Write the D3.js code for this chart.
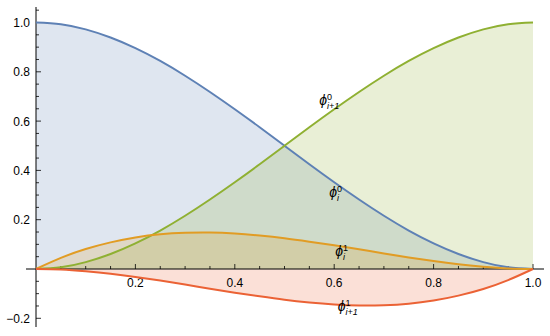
<!DOCTYPE html>
<html><head><meta charset="utf-8">
<script src="https://cdn.jsdelivr.net/npm/d3@7"></script>
<style>body{margin:0;background:#fff}svg{display:block}</style>
</head><body>
<svg id="c" width="550" height="336"></svg>
<script>
const xs = [0,0.05,0.1,0.15,0.2,0.25,0.3,0.35,0.4,0.45,0.5,0.55,0.6,0.65,0.7,0.75,0.8,0.85,0.9,0.95,1];
const phiI0  = [1,0.993,0.972,0.939,0.896,0.844,0.784,0.718,0.648,0.575,0.5,0.425,0.352,0.282,0.216,0.156,0.104,0.061,0.028,0.007,0];
const phiI10 = [0,0.007,0.028,0.061,0.104,0.156,0.216,0.282,0.352,0.425,0.5,0.575,0.648,0.718,0.784,0.844,0.896,0.939,0.972,0.993,1];
const phiI1  = [0,0.045,0.081,0.108,0.128,0.141,0.147,0.148,0.144,0.136,0.125,0.111,0.096,0.080,0.063,0.047,0.032,0.019,0.009,0.002,0];
const phiI11 = [0,-0.002,-0.009,-0.019,-0.032,-0.047,-0.063,-0.080,-0.096,-0.111,-0.125,-0.136,-0.144,-0.148,-0.147,-0.141,-0.128,-0.108,-0.081,-0.045,0];
const xTicks = [0.2,0.4,0.6,0.8,1.0];
const yTicks = [-0.2,0.2,0.4,0.6,0.8,1.0];

const series = [
  {vals: phiI0,  color:"#5E81B5", label:{sup:"0", sub:"i"}, lx:0.59, ly:0.31},
  {vals: phiI10, color:"#8FB032", label:{sup:"0", sub:"i+1"}, lx:0.57, ly:0.68},
  {vals: phiI1,  color:"#E19C24", label:{sup:"1", sub:"i"}, lx:0.602, ly:0.07},
  {vals: phiI11, color:"#EB6235", label:{sup:"1", sub:"i+1"}, lx:0.607, ly:-0.155}
];

const svg = d3.select("#c");
const x = d3.scaleLinear().domain([0,1]).range([36,533]);
const y = d3.scaleLinear().domain([0,1]).range([269,22.5]);

const area = v => d3.area().x((d,i)=>x(xs[i])).y0(y(0)).y1(d=>y(d)).curve(d3.curveNatural)(v);
const line = v => d3.line().x((d,i)=>x(xs[i])).y(d=>y(d)).curve(d3.curveNatural)(v);

series.forEach(s=>{
  svg.append("path").attr("d", area(s.vals)).attr("fill", s.color).attr("fill-opacity",0.2).attr("stroke","none");
});

// axes
const ax = svg.append("g").attr("stroke","#000").attr("stroke-width",1);
ax.append("line").attr("x1",26).attr("x2",544).attr("y1",y(0)).attr("y2",y(0));
ax.append("line").attr("x1",x(0)).attr("x2",x(0)).attr("y1",7).attr("y2",327);
d3.range(1,21).forEach(k=>{
  const v = k*0.05; const major = k%4===0;
  ax.append("line").attr("x1",x(v)).attr("x2",x(v)).attr("y1",y(0)).attr("y2",y(0)-(major?5:3)).attr("stroke-width",0.8);
});
d3.range(-4,22).forEach(k=>{
  if(k===0) return;
  const v = k*0.05; const major = k%4===0;
  ax.append("line").attr("x1",x(0)).attr("x2",x(0)+(major?5:3)).attr("y1",y(v)).attr("y2",y(v)).attr("stroke-width",0.8);
});

const font = "'Liberation Sans', Arial, Helvetica, sans-serif";
svg.append("g").selectAll("text").data(xTicks).join("text")
  .attr("x",d=>x(d)).attr("y",y(0)+18).attr("text-anchor","middle")
  .attr("font-family",font).attr("font-size",12).attr("fill","#000")
  .text(d=>d.toFixed(1));
svg.append("g").selectAll("text").data(yTicks).join("text")
  .attr("x",30).attr("y",d=>y(d)+4.5).attr("text-anchor","end")
  .attr("font-family",font).attr("font-size",12).attr("fill","#000")
  .text(d=>d<0 ? "\u2212"+Math.abs(d).toFixed(1) : d.toFixed(1));

series.forEach(s=>{
  svg.append("path").attr("d", line(s.vals)).attr("fill","none").attr("stroke", s.color).attr("stroke-width",2);
});

series.forEach(s=>{
  const g = svg.append("text").attr("x", x(s.lx)).attr("y", y(s.ly)+4)
    .attr("font-family",font).attr("font-size",14).attr("fill","#000");
  g.append("tspan").attr("font-style","italic").text("\u03D5");
  g.append("tspan").attr("font-size",9).attr("dy",-5).text(s.label.sup);
  g.append("tspan").attr("font-size",9).attr("font-style","italic").attr("dx",-5).attr("dy",9).text(s.label.sub);
});
</script>
</body></html>
